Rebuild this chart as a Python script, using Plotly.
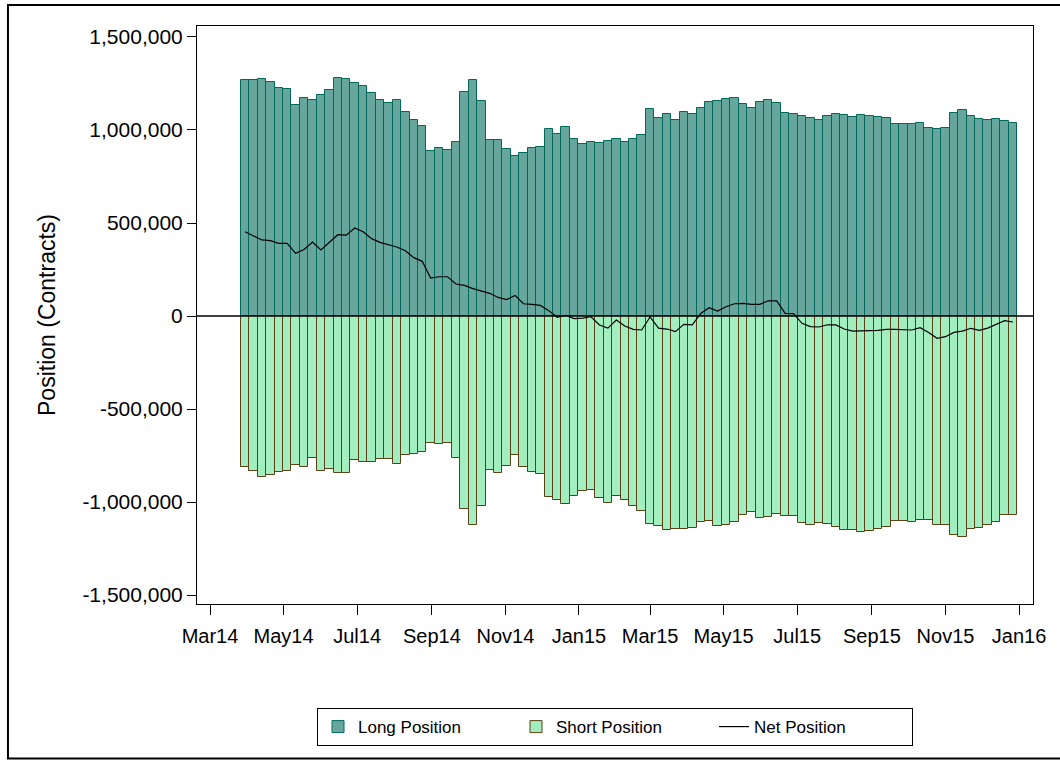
import pandas as pd
import plotly.graph_objects as go

# Weekly report dates (92 weeks)
dates = pd.date_range("2014-03-30", periods=92, freq="7D")

long_pos = [
    1269000, 1267000, 1274000, 1258000, 1226000, 1220000, 1134000, 1172000,
    1163000, 1188000, 1217000, 1281000, 1274000, 1251000, 1235000, 1201000,
    1163000, 1145000, 1160000, 1098000, 1054000, 1023000, 885000, 901000,
    892000, 935000, 1204000, 1269000, 1154000, 948000, 946000, 898000,
    859000, 876000, 901000, 907000, 1004000, 977000, 1014000, 952000,
    926000, 935000, 928000, 941000, 950000, 934000, 950000, 971000,
    1111000, 1065000, 1084000, 1056000, 1097000, 1086000, 1116000, 1149000,
    1156000, 1168000, 1174000, 1142000, 1116000, 1149000, 1160000, 1147000,
    1093000, 1086000, 1074000, 1063000, 1052000, 1074000, 1086000, 1079000,
    1068000, 1079000, 1074000, 1068000, 1065000, 1034000, 1032000, 1031000,
    1036000, 1013000, 1004000, 1009000, 1090000, 1106000, 1077000, 1057000,
    1052000, 1059000, 1047000, 1038000,
]

short_pos = [
    -814000, -833000, -867000, -857000, -841000, -833000, -799000, -810000,
    -765000, -835000, -823000, -846000, -842000, -776000, -783000, -783000,
    -767000, -767000, -794000, -749000, -742000, -731000, -683000, -690000,
    -681000, -763000, -1039000, -1125000, -1023000, -828000, -846000, -808000,
    -749000, -812000, -841000, -851000, -975000, -987000, -1009000, -970000,
    -939000, -937000, -977000, -1007000, -970000, -987000, -1022000, -1047000,
    -1118000, -1131000, -1152000, -1143000, -1145000, -1142000, -1109000, -1102000,
    -1131000, -1124000, -1109000, -1072000, -1054000, -1088000, -1082000, -1066000,
    -1077000, -1075000, -1111000, -1122000, -1113000, -1120000, -1136000, -1149000,
    -1149000, -1161000, -1154000, -1147000, -1134000, -1104000, -1102000, -1108000,
    -1097000, -1095000, -1125000, -1124000, -1177000, -1190000, -1143000, -1138000,
    -1125000, -1106000, -1072000, -1068000,
]

net_pos = [
    453000, 432000, 409000, 405000, 391000, 391000, 337000, 358000,
    398000, 355000, 396000, 437000, 435000, 473000, 453000, 416000,
    396000, 383000, 371000, 351000, 314000, 294000, 204000, 211000,
    211000, 172000, 165000, 147000, 133000, 122000, 100000, 88000,
    111000, 66000, 63000, 57000, 29000, -7000, 4000, -14000,
    -11000, -4000, -48000, -65000, -22000, -54000, -72000, -75000,
    -5000, -65000, -70000, -84000, -45000, -48000, 14000, 45000,
    27000, 50000, 66000, 68000, 63000, 63000, 82000, 81000,
    14000, 13000, -39000, -57000, -59000, -47000, -48000, -70000,
    -81000, -82000, -79000, -77000, -72000, -72000, -73000, -75000,
    -63000, -88000, -120000, -111000, -88000, -81000, -66000, -77000,
    -65000, -43000, -25000, -32000,
]

y_tick_vals = [-1500000, -1000000, -500000, 0, 500000, 1000000, 1500000]
y_tick_text = ["-1,500,000", "-1,000,000", "-500,000", "0",
               "500,000", "1,000,000", "1,500,000"]
x_tick_vals = ["2014-03-01", "2014-05-01", "2014-07-01", "2014-09-01",
               "2014-11-01", "2015-01-01", "2015-03-01", "2015-05-01",
               "2015-07-01", "2015-09-01", "2015-11-01", "2016-01-01"]
x_tick_text = ["Mar14", "May14", "Jul14", "Sep14", "Nov14", "Jan15",
               "Mar15", "May15", "Jul15", "Sep15", "Nov15", "Jan16"]

WEEK_MS = 7 * 24 * 3600 * 1000
FONT = "Liberation Sans, Arial, sans-serif"

fig = go.Figure()
fig.add_trace(go.Bar(
    x=dates, y=long_pos, name="Long Position", width=WEEK_MS,
    marker=dict(color="#66a69d", line=dict(color="#00695c", width=1)),
))
fig.add_trace(go.Bar(
    x=dates, y=short_pos, name="Short Position", width=WEEK_MS,
    marker=dict(color="#a3eebf", line=dict(color="#5c3f14", width=1)),
))
fig.add_trace(go.Scatter(
    x=dates, y=net_pos, name="Net Position", mode="lines",
    line=dict(color="black", width=1.2),
))

fig.update_layout(
    width=1060, height=762,
    margin=dict(l=197, r=27, t=26, b=158),
    paper_bgcolor="white", plot_bgcolor="white",
    barmode="relative", bargap=0,
    font=dict(family=FONT, color="black", size=20),
    showlegend=True,
    legend=dict(
        orientation="h", x=0.5, xanchor="center", y=-0.18, yanchor="top",
        bordercolor="black", borderwidth=1, font=dict(size=17),
        entrywidth=153, traceorder="normal",
    ),
    xaxis=dict(
        type="date",
        range=["2014-02-18 05:00", "2016-01-12 14:00"],
        tickvals=x_tick_vals, ticktext=x_tick_text,
        ticks="outside", ticklen=10, tickcolor="black",
        ticklabelstandoff=4,
        showline=True, linecolor="black", linewidth=1, mirror=True,
        showgrid=False, zeroline=False,
        tickfont=dict(size=20),
    ),
    yaxis=dict(
        range=[-1548000, 1559000],
        tickvals=y_tick_vals, ticktext=y_tick_text,
        ticks="outside", ticklen=9, tickcolor="black",
        showline=True, linecolor="black", linewidth=1, mirror=True,
        showgrid=False, zeroline=False,
        tickfont=dict(size=21),
        title=dict(text="Position (Contracts)", font=dict(size=23), standoff=20),
    ),
    shapes=[
        dict(type="line", xref="paper", yref="y", x0=0, x1=1, y0=0, y1=0,
             line=dict(color="black", width=1.5), layer="above"),
        dict(type="rect", xref="paper", yref="paper",
             x0=-0.2261, x1=1.04, y0=-0.2675, y1=1.0363,
             line=dict(color="black", width=2), layer="below"),
    ],
)

fig.write_html("out.html", config={"displayModeBar": False},
               post_script="document.body.style.margin='0';")
